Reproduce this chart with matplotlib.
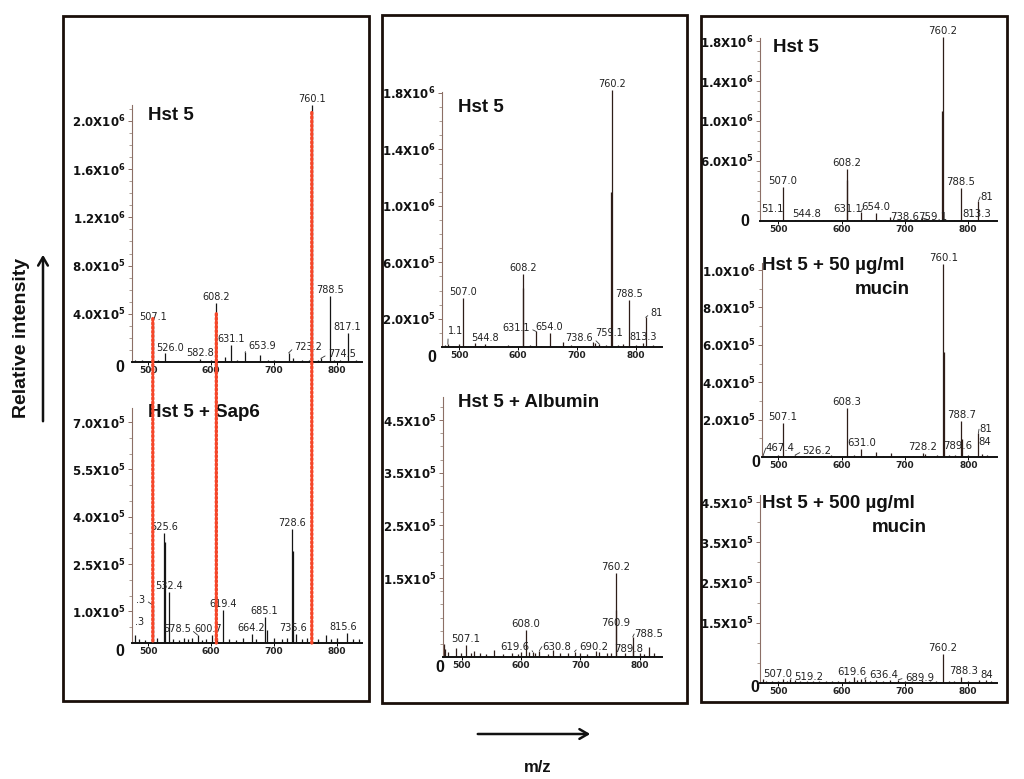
import matplotlib
matplotlib.use("Agg")
import numpy as np
import matplotlib.pyplot as plt
from matplotlib.patches import Rectangle, ConnectionPatch
from matplotlib.ticker import FixedLocator

plt.rcParams['font.family'] = ['DejaVu Sans']
plt.rcParams['mathtext.fontset'] = 'dejavusans'
plt.rcParams['mathtext.default'] = 'bf'

W, H = 1024, 779

# ---------------- spectra (m/z, intensity, peak label) ----------------
# left column: Hst 5 alone
sap_ctrl_mz = [478, 490, 507.1, 515, 526.0, 545, 560, 582.8, 600, 608.2, 622, 631.1, 641, 653.9,
               677, 690, 700, 723.2, 730, 745, 756, 760.1, 770, 774.5, 788.5, 795, 805, 817.1, 830]
sap_ctrl_int = [2e4, 1.5e4, 3.2e5, 1.5e4, 7.5e4, 1e4, 1e4, 2.5e4, 1.5e4, 4.9e5, 4e4, 1.4e5, 2e4, 8e4,
                6e4, 2e4, 1.5e4, 7.5e4, 3e4, 1.5e4, 2e4, 2.13e6, 2e4, 3e4, 5.5e5, 2e4, 1.5e4, 2.4e5, 1.5e4]
sap_ctrl_lab = ['', '', '507.1', '', '526.0', '', '', '582.8', '', '608.2', '', '631.1', '', '653.9',
                '', '', '', '723.2', '', '', '', '760.1', '', '774.5', '788.5', '', '', '817.1', '']

# left column: Hst 5 + Sap6
sap6_mz = [478, 485, 495, 507.3, 513, 525.6, 526.3, 532.4, 540, 548, 556, 563, 570, 578.5, 586, 592,
           600.7, 610, 619.4, 628, 640, 650, 664.2, 672, 685.1, 689, 700, 712, 720, 728.6, 729.6,
           735.6, 745, 752, 770, 782, 790, 800, 815.6, 825, 835]
sap6_int = [2.5e4, 1.2e4, 1e4, 1.2e5, 1.5e4, 3.5e5, 3.2e5, 1.6e5, 1.2e4, 1e4, 1.5e4, 1.2e4, 1.5e4,
            2.5e4, 1e4, 1.2e4, 2.5e4, 1.5e4, 1.05e5, 1.2e4, 1e4, 1.5e4, 3e4, 1.2e4, 8.3e4, 4e4,
            1.5e4, 1.2e4, 1.5e4, 3.6e5, 2.9e5, 3e4, 1.2e4, 1.5e4, 1.2e4, 2.5e4, 1.2e4, 1.5e4, 3.3e4,
            1.2e4, 1.2e4]
sap6_lab = ['.3', '', '', '.3', '', '525.6', '', '532.4', '', '', '', '', '', '578.5', '', '',
            '600.7', '', '619.4', '', '', '', '664.2', '', '685.1', '', '', '', '', '728.6', '',
            '735.6', '', '', '', '', '', '', '815.6', '', '']

# middle column: Hst 5 alone
alb_ctrl_mz = [476, 481, 490, 500, 507.0, 515, 527, 535, 544.8, 555, 565, 583, 590, 608.2, 608.8, 620,
               631.1, 640, 654.0, 665, 677, 690, 700, 710, 727, 731, 738.6, 745, 750, 759.1, 760.2,
               770, 778, 788.5, 800, 813.3, 817.3, 830, 840]
alb_ctrl_int = [1.5e4, 2e4, 1e4, 2e4, 3.5e5, 1e4, 2.5e4, 1e4, 2e4, 1e4, 1e4, 1.5e4, 1e4, 5.2e5, 4.2e5,
                1.5e4, 1.1e5, 1e4, 9.7e4, 1e4, 3.8e4, 1.5e4, 1e4, 1e4, 3.5e4, 2.5e4, 2e4, 1e4, 1.5e4,
                1.1e6, 1.82e6, 1.5e4, 2e4, 3.3e5, 1.5e4, 3e4, 2.1e5, 1.5e4, 1e4]
alb_ctrl_lab = ['', '1.1', '', '', '507.0', '', '', '', '544.8', '', '', '', '', '608.2', '', '',
                '631.1', '', '654.0', '', '', '', '', '', '', '', '738.6', '', '', '759.1', '760.2',
                '', '', '788.5', '', '813.3', '81', '', '']

# middle column: Hst 5 + Albumin
albumin_mz = [470, 472, 477, 490, 498, 507.1, 515, 520, 530, 540, 554, 570, 585, 595, 600, 608.0, 614,
              619.6, 623, 630.8, 645, 654, 665, 680, 690.2, 700, 712, 727, 732, 745, 752, 760.2, 760.9,
              775, 788.5, 789.8, 800, 808, 816.5, 825]
albumin_int = [2.5e4, 1.5e4, 1e4, 1.7e4, 8e3, 2.3e4, 8e3, 1.2e4, 8e3, 6e3, 1.3e4, 6e3, 8e3, 6e3, 1e4,
               5.2e4, 1e4, 1e4, 8e3, 1.2e4, 6e3, 1.3e4, 8e3, 8e3, 1e4, 8e3, 6e3, 1.2e4, 1e4, 8e3, 8e3,
               1.59e5, 8.9e4, 8e3, 3.8e4, 1.2e4, 8e3, 6e3, 1.9e4, 8e3]
albumin_lab = ['', '', '', '', '', '507.1', '', '', '', '', '', '', '', '', '', '608.0', '',
               '619.6', '', '630.8', '', '', '', '', '690.2', '', '', '', '', '', '', '760.2', '760.9',
               '', '788.5', '789.8', '', '', '', '']

# right column: Hst 5 alone
muc_ctrl_mz = [476, 490, 501.1, 507.0, 515, 526, 535, 544.8, 555, 570, 583, 590, 608.2, 608.8, 620,
               631.1, 641, 654.0, 665, 677, 690, 700, 712, 727, 731, 738.6, 745, 750, 759.1, 760.2,
               770, 778, 788.5, 800, 813.3, 816.7, 830, 840]
muc_ctrl_int = [1e4, 8e3, 1.5e4, 3.4e5, 8e3, 1.5e4, 8e3, 1e4, 8e3, 8e3, 1.2e4, 8e3, 5.2e5, 4.1e5,
                1.2e4, 9.3e4, 8e3, 8.3e4, 8e3, 4.3e4, 1.2e4, 8e3, 8e3, 3e4, 2e4, 1e4, 1e4, 1e4, 1.1e6,
                1.84e6, 1.2e4, 1.5e4, 3.3e5, 1.2e4, 1e4, 2.0e5, 1.2e4, 1e4]
muc_ctrl_lab = ['', '', '51.1', '507.0', '', '', '', '544.8', '', '', '', '', '608.2', '', '',
                '631.1', '', '654.0', '', '', '', '', '', '', '', '738.6', '', '', '759.1', '760.2',
                '', '', '788.5', '', '813.3', '81', '', '']

# right column: Hst 5 + 50 ug/ml mucin
muc50_mz = [476, 490, 500, 507.1, 515, 526.2, 540, 555, 570, 583, 595, 608.3, 620, 631.0, 641, 654,
            665, 677, 690, 700, 712, 728.2, 731, 745, 750, 760.1, 760.6, 770, 778, 788.7, 789.6, 800,
            815.6, 822, 830, 840]
muc50_int = [1e4, 8e3, 1e4, 1.83e5, 8e3, 1e4, 6e3, 8e3, 6e3, 1e4, 6e3, 2.64e5, 1e4, 4.1e4, 6e3,
             2.7e4, 8e3, 2e4, 8e3, 6e3, 6e3, 2e4, 1.5e4, 8e3, 1e4, 1.03e6, 5.6e5, 1e4, 1.2e4, 1.94e5,
             9.6e4, 1e4, 1.27e5, 1.8e4, 1e4, 8e3]
muc50_lab = ['467.4', '', '', '507.1', '', '526.2', '', '', '', '', '', '608.3', '', '631.0', '', '',
             '', '', '', '', '', '728.2', '', '', '', '760.1', '', '', '', '788.7', '789.6', '',
             '81', '84', '', '']

# right column: Hst 5 + 500 ug/ml mucin
muc500_mz = [475, 480, 490, 500, 507.0, 513, 519.2, 526, 535, 545, 555, 565, 575, 585, 595, 606, 612,
             619.6, 625, 631, 636.4, 645, 654, 665, 677, 689.9, 700, 712, 727, 740, 750, 760.2, 770,
             778, 788.3, 800, 817, 828, 836]
muc500_int = [1e4, 6e3, 5e3, 6e3, 1e4, 6e3, 1e4, 8e3, 5e3, 6e3, 5e3, 6e3, 5e3, 6e3, 5e3, 1.2e4, 6e3,
              1.5e4, 8e3, 1e4, 1e4, 6e3, 8e3, 6e3, 8e3, 8e3, 6e3, 5e3, 8e3, 5e3, 6e3, 7.2e4, 6e3, 5e3,
              1.6e4, 6e3, 8e3, 8e3, 6e3]
muc500_lab = ['', '', '', '', '507.0', '', '519.2', '', '', '', '', '', '', '', '', '', '',
              '619.6', '', '', '636.4', '', '', '', '', '689.9', '', '', '', '', '', '760.2', '',
              '', '788.3', '', '', '84', '']

# y-axis tick values for each panel
sap_ctrl_ticks = [4e5, 8e5, 1.2e6, 1.6e6, 2.0e6]
sap6_ticks = [1.0e5, 2.5e5, 4.0e5, 5.5e5, 7.0e5]
alb_ctrl_ticks = [2e5, 6e5, 1.0e6, 1.4e6, 1.8e6]
albumin_ticks = [1.5e5, 2.5e5, 3.5e5, 4.5e5]
muc_ctrl_ticks = [6e5, 1.0e6, 1.4e6, 1.8e6]
muc50_ticks = [2e5, 4e5, 6e5, 8e5, 1.0e6]
muc500_ticks = [1.5e5, 2.5e5, 3.5e5, 4.5e5]
mz_ticks = [500, 600, 700, 800]

# peaks of Hst 5 followed into the Sap6 spectrum (red guide lines)
marker_mz = [507.1, 608.2, 760.1]
marker_top = [3.6e5, 4.0e5, 2.07e6]

panel_titles = [["Hst 5"], ["Hst 5 + Sap6"], ["Hst 5"], ["Hst 5 + Albumin"], ["Hst 5"],
                ["Hst 5 + 50 µg/ml", "mucin"], ["Hst 5 + 500 µg/ml", "mucin"]]

# ---------------- layout (pixels in the 1024x779 picture) ----------------
# x0, x1: axis extent; zero: y of baseline; ref: (tick value, its y); top: y of axis top
layouts = [
    dict(x0=132, x1=362, zero=362, ref=(2.0e6, 121), top=105, xlim=(474, 840), minor=1e5, fs=7,
         zero_off=(-12, -6), title_xy=[(148, 115)], color='#151515',
         offsets={526.0: (5, 5, False), 653.9: (17, 6, True), 723.2: (20, 6, True), 774.5: (21, 4, True)}),
    dict(x0=132, x1=362, zero=643, ref=(7.0e5, 422), top=408, xlim=(474, 840), minor=5e4, fs=7,
         zero_off=(-12, -9), title_xy=[(148, 412)], color='#151515',
         offsets={478: (5, 13, False), 507.3: (-12, 5, True), 578.5: (-21, 6, True), 600.7: (-3, 6, False),
                  735.6: (-3, 6, False), 815.6: (-3, 6, False)}),
    dict(x0=442, x1=662, zero=347, ref=(1.8e6, 93), top=92, xlim=(471, 845), minor=1e5, fs=7,
         zero_off=(-10, -10), title_xy=[(458, 107)], color='#2e1d18',
         offsets={481: (8, 13, True), 631.1: (-20, 3, True), 738.6: (-20, 6, True), 759.1: (-2, -141, False),
                  817.3: (11, 4, True)}),
    dict(x0=443, x1=662, zero=657, ref=(4.5e5, 420), top=397, xlim=(468, 838), minor=2.5e4, fs=7.3,
         zero_off=(-3, -10), title_xy=[(458, 402)], color='#2e1d18',
         offsets={619.6: (-18, 5, True), 630.8: (17, 4, True), 690.2: (19, 5, True), 760.9: (-1, -13, False),
                  788.5: (16, 3, True), 789.8: (-5, 2, False)}),
    dict(x0=760, x1=997, zero=221, ref=(1.8e6, 41), top=38, xlim=(471, 846), minor=1e5, fs=7.3,
         zero_off=(-15, -1), title_xy=[(773, 47)], color='#2e1d18',
         offsets={501.1: (-7, 10, False), 631.1: (-13, 3, True), 738.6: (-24, 3, True),
                  759.1: (-9, -106, False), 816.7: (8, 4, True)}),
    dict(x0=762, x1=997, zero=457, ref=(1.0e6, 270), top=263, xlim=(474, 845), minor=1e5, fs=7.3,
         zero_off=(-6, -5), title_xy=[(762, 265), (855, 289)], color='#2e1d18',
         offsets={476: (17, 7, True), 526.2: (22, 4, True), 789.6: (-4, -7, False), 815.6: (7, 4, True),
                  822: (2, 12, False)}),
    dict(x0=760, x1=997, zero=683, ref=(4.5e5, 502), top=495, xlim=(471, 846), minor=5e4, fs=7.3,
         zero_off=(-5, -5), title_xy=[(762, 503), (872, 527)], color='#2e1d18',
         offsets={507.0: (-5, 5, False), 519.2: (18, 2, True), 619.6: (-2, 5, False), 636.4: (19, 4, True),
                  689.9: (21, 2, True), 788.3: (3, 6, False), 828: (1, 5, False)}),
]

spectra = [
    (sap_ctrl_mz, sap_ctrl_int, sap_ctrl_lab, sap_ctrl_ticks),
    (sap6_mz, sap6_int, sap6_lab, sap6_ticks),
    (alb_ctrl_mz, alb_ctrl_int, alb_ctrl_lab, alb_ctrl_ticks),
    (albumin_mz, albumin_int, albumin_lab, albumin_ticks),
    (muc_ctrl_mz, muc_ctrl_int, muc_ctrl_lab, muc_ctrl_ticks),
    (muc50_mz, muc50_int, muc50_lab, muc50_ticks),
    (muc500_mz, muc500_int, muc500_lab, muc500_ticks),
]


def sci(v):
    e = int(np.floor(np.log10(v)))
    return f"{v / 10 ** e:.1f}X10$^{{{e}}}$"


def draw_panel(fig, mz, inten, labels, ticks, lay):
    scale = (lay['zero'] - lay['ref'][1]) / lay['ref'][0]   # pixels per intensity unit
    ax_top = lay['top'] - 22
    spine_top = (lay['zero'] - lay['top']) / scale
    ax = fig.add_axes([lay['x0'] / W, 1 - lay['zero'] / H,
                       (lay['x1'] - lay['x0']) / W, (lay['zero'] - ax_top) / H])
    ax.patch.set_visible(False)
    ax.set_xlim(*lay['xlim'])
    ax.set_ylim(0, (lay['zero'] - ax_top) / scale)
    for s in ('top', 'right'):
        ax.spines[s].set_visible(False)
    ax.spines['left'].set_bounds(0, spine_top)
    ax.spines['left'].set_color('#8c6f66')
    ax.spines['left'].set_linewidth(0.8)
    ax.spines['bottom'].set_color('#111111')
    ax.spines['bottom'].set_linewidth(1.4)

    ax.vlines(mz, 0, inten, colors=lay['color'], lw=0.9)

    ax.set_yticks(ticks, [sci(t) for t in ticks])
    ax.yaxis.set_minor_locator(FixedLocator(np.arange(lay['minor'], spine_top, lay['minor'])))
    ax.tick_params(axis='y', which='major', length=3, width=0.7, color='#8c6f66', pad=1.5,
                   labelsize=8.5, labelcolor='#111111')
    ax.tick_params(axis='y', which='minor', length=2, width=0.6, color='#9c8a80')
    for t in ax.get_yticklabels():
        t.set_fontweight('bold')
    ax.set_xticks(mz_ticks, [str(t) for t in mz_ticks])
    ax.tick_params(axis='x', length=2, width=0.7, pad=1, labelsize=6.5, labelcolor='#222222')
    for t in ax.get_xticklabels():
        t.set_fontweight('bold')

    ax.annotate('0', xy=(0, 0), xycoords='axes fraction', xytext=lay['zero_off'],
                textcoords='offset pixels', ha='center', va='center', fontsize=11.5,
                fontweight='bold', family='Liberation Sans', color='#111111')

    for m, v, lab in zip(mz, inten, labels):
        if not lab:
            continue
        dx, dy, lead = lay['offsets'].get(m, (0, 6, False))
        kw = {}
        if lead:
            kw['arrowprops'] = dict(arrowstyle='-', lw=0.6, color='#333333', shrinkA=0, shrinkB=0,
                                    relpos=(0, 0.5) if dx > 0 else (1, 0.5))
        ax.annotate(lab, xy=(m, v), xytext=(dx, dy), textcoords='offset pixels',
                    ha='center', va='center', fontsize=lay['fs'], color='#222222',
                    annotation_clip=False, **kw)
    return ax


fig = plt.figure(figsize=(W / 100, H / 100), dpi=100)
fig.patch.set_facecolor('white')

axes = [draw_panel(fig, *spec, lay) for spec, lay in zip(spectra, layouts)]

# red dotted guide lines from the Hst 5 peaks down into the Sap6 spectrum
for m, top in zip(marker_mz, marker_top):
    con = ConnectionPatch(xyA=(m, top), coordsA=axes[0].transData,
                          xyB=(m, 0), coordsB=axes[1].transData,
                          color='#f5472a', lw=2.4, linestyle=(0, (0.45, 0.8)), zorder=5)
    fig.add_artist(con)

# overlay in picture pixels for frames, titles and the axis arrows
ov = fig.add_axes([0, 0, 1, 1])
ov.set_xlim(0, W)
ov.set_ylim(H, 0)
ov.axis('off')
ov.patch.set_visible(False)

for (x0, y0, x1, y1) in [(62.5, 16, 368.5, 701), (381.5, 15, 687, 703), (700.5, 16, 1007, 702)]:
    ov.add_patch(Rectangle((x0, y0), x1 - x0, y1 - y0, fill=False, lw=2.0, ec='#1a0f0a'))

for lines, lay in zip(panel_titles, layouts):
    for txt, (tx, ty) in zip(lines, lay['title_xy']):
        ov.text(tx, ty, txt, ha='left', va='center', fontsize=13.5, fontweight='bold',
                family='Liberation Sans', color='#111111')

ov.annotate('', xy=(43, 252), xytext=(43, 424),
            arrowprops=dict(arrowstyle='->,head_length=0.6,head_width=0.35', lw=1.8, color='#111111'))
ov.text(22, 338, 'Relative intensity', rotation=90, ha='center', va='center', fontsize=14,
        fontweight='bold', family='Liberation Sans', color='#111111')
ov.annotate('', xy=(593, 734), xytext=(475, 734),
            arrowprops=dict(arrowstyle='->,head_length=0.6,head_width=0.35', lw=1.8, color='#111111'))
ov.text(538, 768, 'm/z', ha='center', va='center', fontsize=12, fontweight='bold',
        family='Liberation Sans', color='#111111')

fig.savefig('out.png', dpi=100, facecolor='white')
